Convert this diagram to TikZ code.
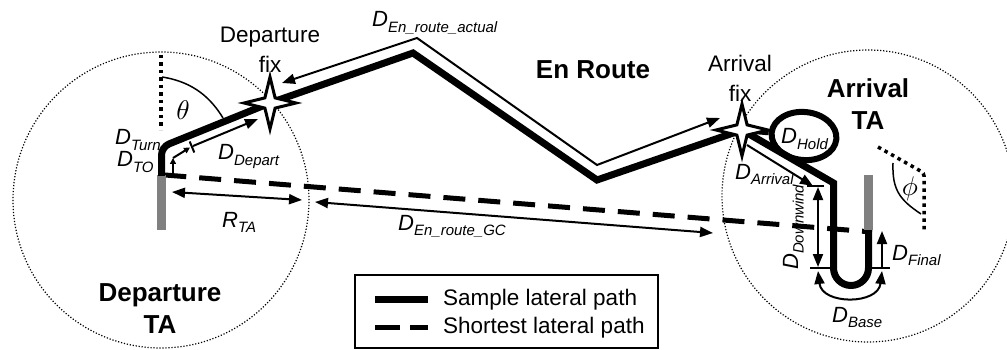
\documentclass[tikz,border=0pt]{standalone}
\usepackage{fontspec}
\setmainfont{Liberation Sans}
\usetikzlibrary{arrows.meta,shapes.geometric}
\definecolor{rwygray}{RGB}{128,128,128}
\newcommand\Dsub[2]{\textit{#1}\raisebox{-5.5pt}{\fontsize{15}{15}\selectfont\textit{#2}}}
\begin{document}
\begin{tikzpicture}[x=1pt,y=-1pt,
  circdot/.style={draw, circle, inner sep=0pt, line width=1.2pt, dash pattern=on 1.2pt off 1.8pt},
  refdot/.style={line width=3.5pt, dash pattern=on 3.5pt off 4pt},
  samplepath/.style={line width=7pt, line join=miter},
  shortpath/.style={line width=5pt, dash pattern=on 22pt off 13pt},
  dim/.style={line width=2pt},
  tipA/.style={-{Triangle[length=13pt,width=10pt]}},
  tipB/.style={{Triangle[length=13pt,width=10pt]}-{Triangle[length=13pt,width=10pt]}},
  tipS/.style={-{Triangle[length=6pt,width=6pt]}},
  fixstar/.style={star, star points=4, star point ratio=3.6, minimum size=52pt, inner sep=0pt, draw, line width=3pt, fill=white},
  rwy/.style={fill=rwygray, inner sep=0pt, minimum width=9pt, minimum height=55pt},
  lab/.style={inner sep=0pt, font=\fontsize{22.5}{29.5}\selectfont, align=center},
  blab/.style={inner sep=0pt, font=\bfseries\fontsize{26}{32}\selectfont, align=center},
  dlab/.style={inner sep=0pt, font=\fontsize{22}{22}\selectfont, anchor=base west},
  greek/.style={inner sep=0pt, scale=2.7},
]
\useasboundingbox (0,0) rectangle (1007,350);

% terminal areas
\node[circdot, minimum size=296pt] (depTA) at (161,200) {};
\node[circdot, minimum size=292pt] (arrTA) at (868,196) {};

% key points
\coordinate (rwyD) at (161.5,176);
\coordinate (turnD) at (161.5,147);
\coordinate (depfixC) at (270,103);
\coordinate (peak) at (413,53);
\coordinate (valley) at (597,180);
\coordinate (arrfixC) at (742,130);
\coordinate (dwTop) at (833.5,183);
\coordinate (dwBot) at (833.5,268);
\coordinate (finTop) at (868.5,230);

% shortest lateral path
\coordinate (gcA) at (872,232);
\coordinate (gcD) at (165,175);
\draw[shortpath, dash phase=12pt] (gcA) -- (gcD);

% runways
\node[rwy] (rwyDep) at (161.5,202.5) {};
\node[rwy] (rwyArr) at (868.5,202.5) {};

% sample lateral path
\draw[samplepath, rounded corners=8pt] (rwyD) -- (turnD) -- (depfixC);
\draw[samplepath] (depfixC) -- (peak) -- (valley) -- (arrfixC) -- (dwTop) -- (dwBot)
   arc[start angle=180, end angle=0, radius=17.5] -- (finTop);
\node[draw, ellipse, line width=6pt, minimum width=65pt, minimum height=48pt, inner sep=0pt, rotate=-6] (hold) at (804,136) {};
\draw[line width=6pt] (arrfixC) -- (hold.west);

% theta
\draw[refdot] (161,55) -- (161,130);
\draw[line width=1.5pt] (162,77) .. controls (195,82) and (212,100) .. (223,118);
\node[greek] (theta) at (183,110) {$\theta$};

% phi
\draw[refdot, rounded corners=3pt] (878,147) -- (924,173) -- (924,230);
\draw[line width=1.5pt] (893,163) .. controls (892,190) and (900,200) .. (921,214);
\node[greek] (phi) at (910,189) {$\phi$};

% dimension arrows - departure
\coordinate (toB) at (173,173);
\coordinate (toT) at (173,158);
\coordinate (turnE) at (190,147.5);
\coordinate (tkA) at (189.7,141.5);
\coordinate (tkB) at (194.3,152.5);
\coordinate (depS) at (193,146);
\coordinate (depE) at (258,119);
\draw[dim, tipS] (toB) -- (toT);
\draw[dim, tipS] (toT) -- (turnE);
\draw[dim] (tkA) -- (tkB);
\draw[dim, tipA] (depS) -- (depE);
\coordinate (rtaA) at (172,192);
\coordinate (rtaB) at (302,200);
\draw[dim, tipB] (rtaA) -- (rtaB);
\coordinate (gcL) at (315,202);
\coordinate (gcR) at (713,233);
\draw[dim, tipB] (gcL) -- (gcR);

% en route actual
\coordinate (eaA) at (282,83);
\coordinate (eaP) at (417,38);
\coordinate (eaV) at (597,165);
\coordinate (eaB) at (720,118);
\draw[dim, tipB, line join=miter] (eaA) -- (eaP) -- (eaV) -- (eaB);

% arrival dimension arrows
\coordinate (arS) at (747,145);
\coordinate (arE) at (813,186);
\draw[dim, tipA] (arS) -- (arE);
\coordinate (tk1a) at (807,186);
\coordinate (tk1b) at (824,186);
\draw[dim] (tk1a) -- (tk1b);
\coordinate (dwA) at (818,187);
\coordinate (dwB) at (818,267);
\draw[dim, tipB] (dwA) -- (dwB);
\coordinate (tk2a) at (810,268);
\coordinate (tk2b) at (831,268);
\draw[dim] (tk2a) -- (tk2b);
\coordinate (tk3a) at (871,268);
\coordinate (tk3b) at (890,268);
\draw[dim] (tk3a) -- (tk3b);
\coordinate (finA) at (882,268);
\coordinate (finB) at (882,231);
\draw[dim, tipA] (finA) -- (finB);
\coordinate (baA) at (818,271);
\coordinate (baB) at (882,271);
\draw[dim, tipB] (baA) .. controls (822,305) and (878,305) .. (baB);

% fixes
\node[fixstar] (depfix) at (depfixC) {};
\node[fixstar] (arrfix) at (arrfixC) {};

% labels
\node[lab, anchor=north] (depfixlab) at (270,27) {Departure\\fix};
\node[lab, anchor=north] (arrfixlab) at (740,55) {Arrival\\fix};
\node[blab, anchor=north] (enroute) at (593,60) {En Route};
\node[blab, anchor=north] (arrTAlab) at (868,78) {Arrival\\TA};
\node[blab, anchor=north] (depTAlab) at (160,283) {Departure\\TA};

\node[dlab] (lactual) at (372,27) {\Dsub{D}{En\_route\_actual}};
\node[dlab] (ldepart) at (218,160) {\Dsub{D}{Depart}};
\node[dlab] (lturn) at (115,145) {\Dsub{D}{Turn}};
\node[dlab] (lto) at (117,167) {\Dsub{D}{TO}};
\node[dlab] (lrta) at (222,227) {\Dsub{R}{TA}};
\node[dlab] (lgc) at (398,230) {\Dsub{D}{En\_route\_GC}};
\node[dlab] (larr) at (735,179) {\Dsub{D}{Arrival}};
\node[dlab] (lhold) at (781,144) {\Dsub{D}{Hold}};
\node[dlab] (lfinal) at (892,260) {\Dsub{D}{Final}};
\node[dlab] (lbase) at (832,322) {\Dsub{D}{Base}};
\node[dlab, rotate=90] (ldown) at (798,270) {\Dsub{D}{Downwind}};

% legend
\node[draw, line width=2pt, inner sep=0pt, minimum width=303pt, minimum height=73pt] (legend) at (506.5,311.5) {};
\coordinate (lg1a) at (375,299);
\coordinate (lg1b) at (428,299);
\coordinate (lg2a) at (375,327);
\coordinate (lg2b) at (428,327);
\draw[samplepath] (lg1a) -- (lg1b);
\draw[shortpath, dash pattern=on 25pt off 10pt] (lg2a) -- (lg2b);
\node[lab, anchor=base west] (legS) at (443,305) {Sample lateral path};
\node[lab, anchor=base west] (legD) at (443,333) {Shortest lateral path};
\end{tikzpicture}
\end{document}
